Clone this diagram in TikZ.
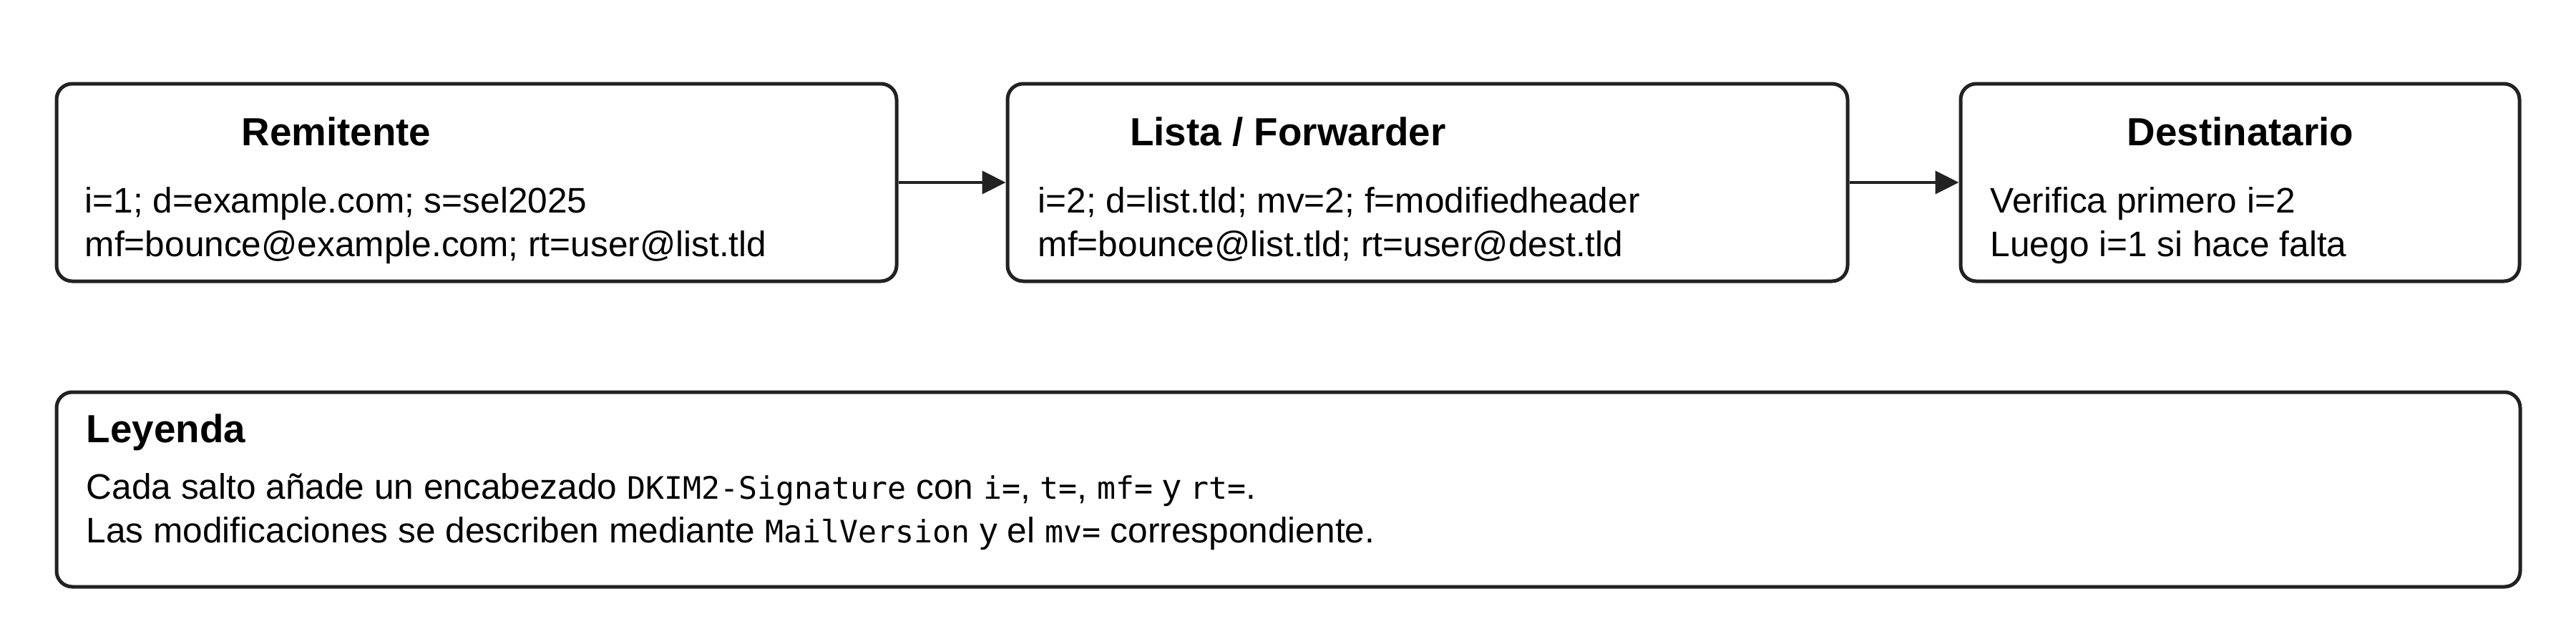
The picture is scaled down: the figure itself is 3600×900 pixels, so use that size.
\documentclass[tikz,border=0pt]{standalone}
\usepackage{fontspec}
\setmainfont{Liberation Sans}
\setmonofont{DejaVu Sans Mono}
\usetikzlibrary{arrows.meta,positioning,calc}
\definecolor{borde}{HTML}{222222}
\newcommand{\cod}[1]{{\fontsize{10.8pt}{13pt}\selectfont\ttfamily #1}}

\begin{document}
\begin{tikzpicture}[
		x=0.25pt, y=-0.25pt,
		caja/.style={rectangle, draw=borde, line width=1.25pt, rounded corners=5.5pt, fill=white},
		titulo/.style={anchor=base, inner sep=0pt, font=\fontsize{13.7pt}{16pt}\selectfont\bfseries},
		texto/.style={anchor=base west, inner sep=0pt, font=\fontsize{12.4pt}{15pt}\selectfont},
		flecha/.style={-{Triangle[length=8.25pt,width=8pt]}, draw=borde, line width=1.1pt},
		]
		\useasboundingbox[fill=white] (0,0) rectangle (3600,900);

		% --- Cajas de arriba ---
		\node[caja, minimum width=293.5pt, minimum height=69pt] (remitente) at (666, 255) {};
		\node[caja, minimum width=293.5pt, minimum height=69pt] (lista) at (1995, 255) {};
		\node[caja, minimum width=195.25pt, minimum height=69pt] (destino) at (3130.5, 255) {};

		\node[titulo] (tRem) at (470, 203) {Remitente};
		\node[texto] (rem1) at (118, 297) {i=1; d=example.com; s=sel2025};
		\node[texto] (rem2) at (118, 358) {mf=bounce@example.com; rt=user@list.tld};

		\node[titulo] (tLis) at (1800, 203) {Lista / Forwarder};
		\node[texto] (lis1) at (1450, 297) {i=2; d=list.tld; mv=2; f=modifiedheader};
		\node[texto] (lis2) at (1450, 358) {mf=bounce@list.tld; rt=user@dest.tld};

		\node[titulo] (tDes) at (3131, 203) {Destinatario};
		\node[texto] (des1) at (2781, 297) {Verifica primero i=2};
		\node[texto] (des2) at (2781, 358) {Luego i=1 si hace falta};

		\draw[flecha] (remitente) -- (lista);
		\draw[flecha] (lista) -- (destino);

		% --- Leyenda ---
		\node[caja, minimum width=860.75pt, minimum height=68pt] (leyenda) at (1800.5, 684) {};
		\node[titulo, anchor=base west] (tLey) at (120, 618) {Leyenda};
		\node[texto] (ley1) at (120, 697) {Cada salto añade un encabezado \cod{DKIM2-Signature} con \cod{i=}, \cod{t=}, \cod{mf=} y \cod{rt=}.};
		\node[texto] (ley2) at (120, 758) {Las modificaciones se describen mediante \cod{MailVersion} y el \cod{mv=} correspondiente.};

	\end{tikzpicture}
\end{document}
